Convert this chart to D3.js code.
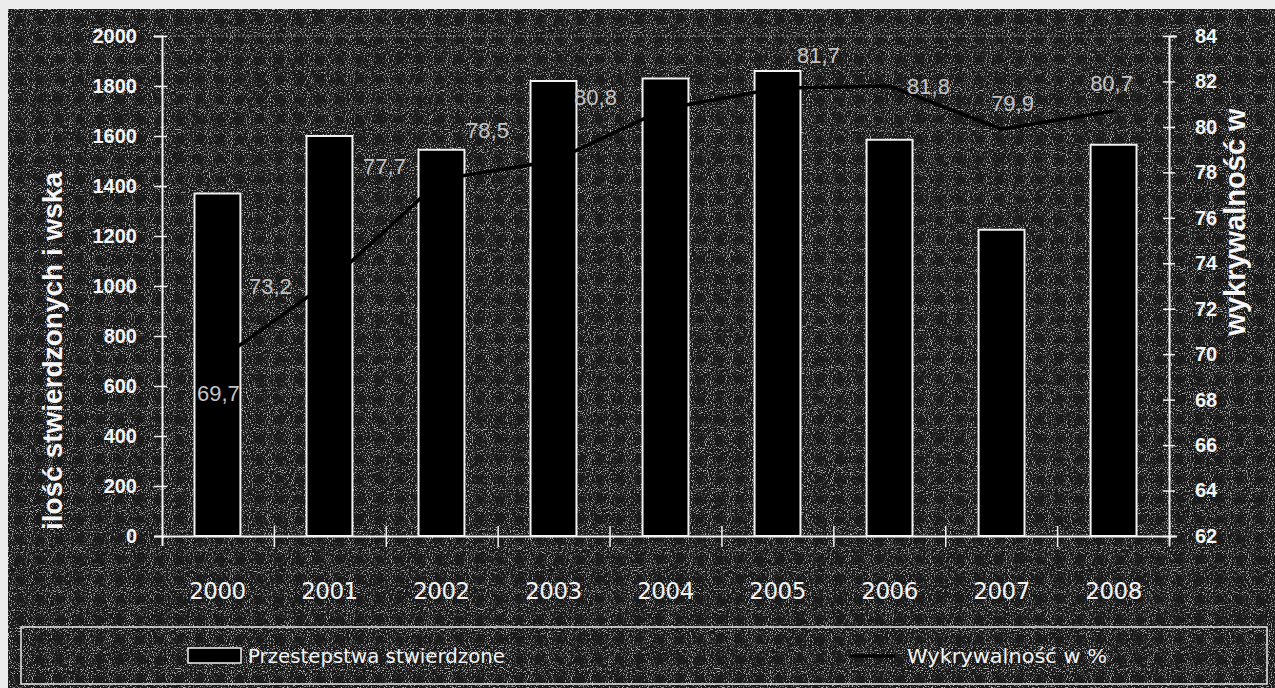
<!DOCTYPE html>
<html>
<head>
<meta charset="utf-8">
<script src="https://cdn.jsdelivr.net/npm/d3@7"></script>
<style>
  html, body { margin: 0; padding: 0; background: #ececec; }
  svg { display: block; }
</style>
</head>
<body>
<svg id="chart" width="1275" height="688"></svg>
<script>
// ---- data ----
const years = ["2000", "2001", "2002", "2003", "2004", "2005", "2006", "2007", "2008"];
const crimes = [1370, 1600, 1545, 1820, 1830, 1860, 1585, 1225, 1565];
const detection = [69.7, 73.2, 77.7, 78.5, 80.8, 81.7, 81.8, 79.9, 80.7];
const leftTicks = [0, 200, 400, 600, 800, 1000, 1200, 1400, 1600, 1800, 2000];
const rightTicks = [62, 64, 66, 68, 70, 72, 74, 76, 78, 80, 82, 84];
const seriesNames = ["Przestepstwa stwierdzone", "Wykrywalność w %"];
const leftTitle = "ilość stwierdzonych i wska";
const rightTitle = "wykrywalność w";

// ---- layout (not data) ----
const labelNudge = [[1, 32], [-59, 5], [-57, -13], [-66, -31], [-70, -11], [41, -33], [39, 0], [11, -26], [-2, -28]];
const plot = { left: 162, right: 1169, top: 36, bottom: 536 };

const svg = d3.select("#chart");
const defs = svg.append("defs");

// scanned-paper speckle noise
const f = defs.append("filter").attr("id", "speck").attr("x", 0).attr("y", 0).attr("width", "100%").attr("height", "100%");
f.append("feTurbulence").attr("type", "fractalNoise").attr("baseFrequency", 0.95).attr("numOctaves", 1).attr("seed", 3).attr("result", "n");
f.append("feColorMatrix").attr("in", "n").attr("type", "matrix")
  .attr("values", "0 0 0 0 0.85  0 0 0 0 0.85  0 0 0 0 0.85  7 0 0 0 -3.9");

// background
svg.append("rect").attr("x", 8).attr("y", 9).attr("width", 1267).attr("height", 679).attr("fill", "#1a1a1a");
svg.append("rect").attr("x", 8).attr("y", 9).attr("width", 1267).attr("height", 679).attr("filter", "url(#speck)").attr("opacity", 0.75);

// scales
const x = d3.scaleBand().domain(years).range([plot.left, plot.right]).paddingInner(0.59).paddingOuter(0.29);
const yL = d3.scaleLinear().domain([0, 2000]).range([plot.bottom, plot.top]);
const yR = d3.scaleLinear().domain([62, 84]).range([plot.bottom, plot.top]);
const xBound = d3.scaleLinear().domain([0, years.length]).range([plot.left, plot.right]);

// top border of plot area (dotted)
svg.append("line").attr("x1", plot.left).attr("x2", plot.right).attr("y1", plot.top).attr("y2", plot.top)
  .attr("stroke", "#9a9a9a").attr("stroke-width", 1).attr("stroke-dasharray", "2,2");

// bars
svg.append("g").selectAll("rect").data(crimes).join("rect")
  .attr("x", (d, i) => x(years[i]))
  .attr("y", d => yL(d))
  .attr("width", x.bandwidth())
  .attr("height", d => yL(0) - yL(d))
  .attr("fill", "#000")
  .attr("stroke", "#f2f2f2")
  .attr("stroke-width", 2);

// left axis
const gL = svg.append("g").attr("transform", `translate(${plot.left},0)`)
  .call(d3.axisLeft(yL).tickValues(leftTicks).tickSize(8).tickPadding(17).tickFormat(d3.format("d")));
gL.select(".domain").attr("stroke", "#f2f2f2").attr("stroke-width", 2);
gL.selectAll(".tick line").attr("x1", -8).attr("x2", 5).attr("stroke", "#f2f2f2").attr("stroke-width", 1.5);
gL.selectAll(".tick text").attr("fill", "#f4f4f4").attr("font-family", "Liberation Sans, Arial, sans-serif")
  .attr("font-size", 20).attr("font-weight", "bold");

// right axis
const gR = svg.append("g").attr("transform", `translate(${plot.right},0)`)
  .call(d3.axisRight(yR).tickValues(rightTicks).tickSize(8).tickPadding(18).tickFormat(d3.format("d")));
gR.select(".domain").attr("stroke", "#f2f2f2").attr("stroke-width", 2);
gR.selectAll(".tick line").attr("x1", -6).attr("x2", 6).attr("stroke", "#f2f2f2").attr("stroke-width", 1.5);
gR.selectAll(".tick text").attr("fill", "#f4f4f4").attr("font-family", "Liberation Sans, Arial, sans-serif")
  .attr("font-size", 20).attr("font-weight", "bold");

// bottom axis: baseline + ticks between categories
const gB = svg.append("g").attr("transform", `translate(0,${plot.bottom})`)
  .call(d3.axisBottom(xBound).tickValues(d3.range(1, years.length)).tickSize(10).tickFormat(""));
gB.select(".domain").attr("stroke", "#f2f2f2").attr("stroke-width", 2);
gB.selectAll(".tick line").attr("y1", -10).attr("y2", 11).attr("stroke", "#f2f2f2").attr("stroke-width", 1.5);

const gX = svg.append("g").attr("transform", `translate(0,${plot.bottom})`)
  .call(d3.axisBottom(x).tickSize(0).tickPadding(47));
gX.select(".domain").remove();
gX.selectAll(".tick text").attr("fill", "#f4f4f4").attr("font-family", "DejaVu Sans, sans-serif")
  .attr("font-size", 23).attr("letter-spacing", -0.5);

// line
const line = d3.line().x((d, i) => x(years[i]) + x.bandwidth() / 2).y(d => yR(d));
svg.append("path").datum(detection).attr("d", line).attr("fill", "none").attr("stroke", "#000").attr("stroke-width", 3.5);

// data labels
const fmt = d3.formatLocale({ decimal: ",", thousands: " ", grouping: [3], currency: ["", ""] }).format(".1f");
svg.append("g").selectAll("text").data(detection).join("text")
  .attr("x", (d, i) => x(years[i]) + x.bandwidth() / 2 + labelNudge[i][0])
  .attr("y", (d, i) => yR(d) + labelNudge[i][1])
  .attr("dy", "0.35em")
  .attr("text-anchor", "middle")
  .attr("fill", "#c4c4c4")
  .attr("font-family", "Liberation Sans, Arial, sans-serif")
  .attr("font-size", 22)
  .text(d => fmt(d));

// axis titles
svg.append("text").attr("transform", "translate(62,351) rotate(-90)").attr("text-anchor", "middle")
  .attr("fill", "#f6f6f6").attr("font-family", "Liberation Sans, Arial, sans-serif").attr("font-size", 28).attr("font-weight", "bold")
  .text(leftTitle);
svg.append("text").attr("transform", "translate(1245,222) rotate(-90)").attr("text-anchor", "middle")
  .attr("fill", "#f6f6f6").attr("font-family", "Liberation Sans, Arial, sans-serif").attr("font-size", 29).attr("font-weight", "bold")
  .text(rightTitle);

// legend
const lg = svg.append("g");
lg.append("rect").attr("x", 21).attr("y", 627).attr("width", 1246).attr("height", 57)
  .attr("fill", "none").attr("stroke", "#e8e8e8").attr("stroke-width", 1.5);
lg.append("rect").attr("x", 188).attr("y", 648).attr("width", 53).attr("height", 15)
  .attr("fill", "#000").attr("stroke", "#f2f2f2").attr("stroke-width", 1.5);
lg.append("text").attr("x", 248).attr("y", 656).attr("dy", "0.35em").attr("fill", "#f4f4f4")
  .attr("font-family", "DejaVu Sans, sans-serif").attr("font-size", 19)
  .attr("textLength", 257).attr("lengthAdjust", "spacingAndGlyphs").text(seriesNames[0]);
lg.append("line").attr("x1", 850).attr("x2", 895).attr("y1", 656).attr("y2", 656).attr("stroke", "#000").attr("stroke-width", 3.5);
lg.append("text").attr("x", 907).attr("y", 656).attr("dy", "0.35em").attr("fill", "#f4f4f4")
  .attr("font-family", "DejaVu Sans, sans-serif").attr("font-size", 19)
  .attr("textLength", 200).attr("lengthAdjust", "spacingAndGlyphs").text(seriesNames[1]);
</script>
</body>
</html>
